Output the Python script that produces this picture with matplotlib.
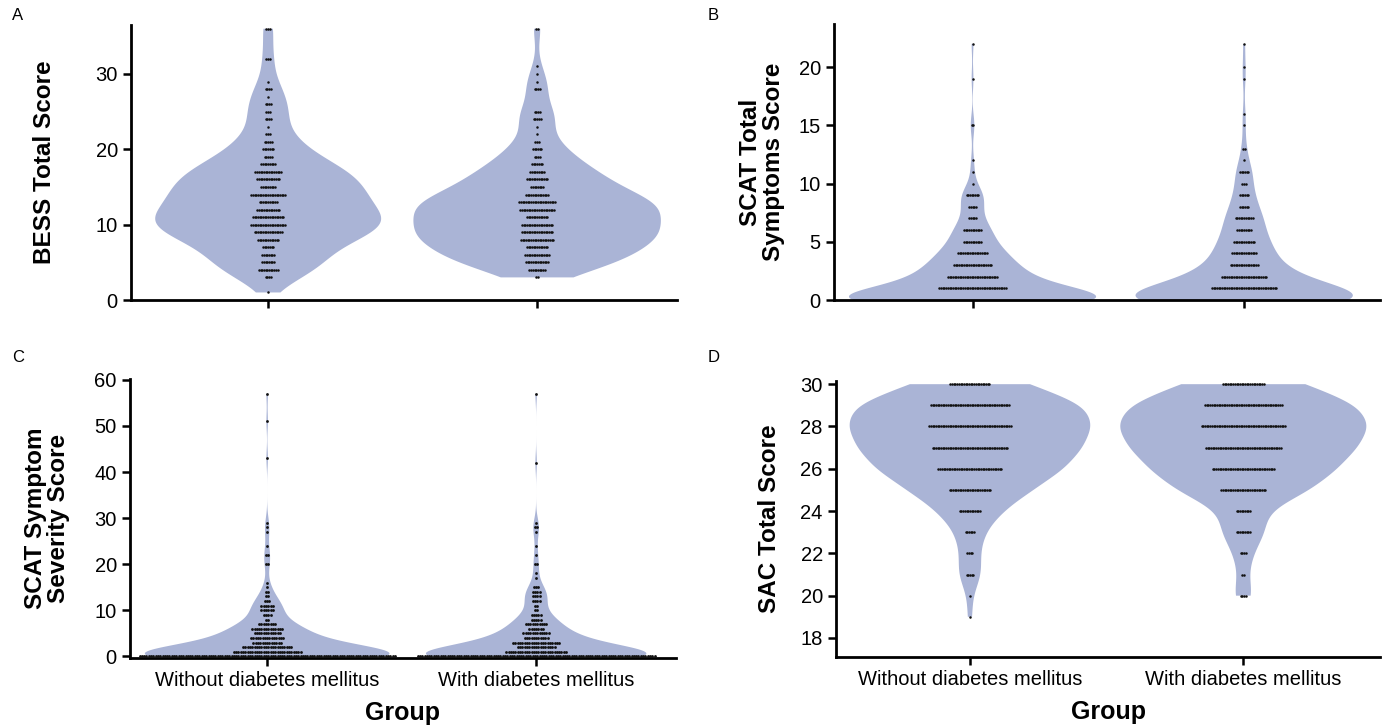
import numpy as np
import matplotlib
matplotlib.use("Agg")
import matplotlib.pyplot as plt
from matplotlib import font_manager

groups = ["Without diabetes mellitus", "With diabetes mellitus"]

# counts of subjects per integer score, one dict per group
bess_without = {1: 1, 3: 4, 4: 12, 5: 8, 6: 8, 7: 7, 8: 13, 9: 17, 10: 21, 11: 19, 12: 14,
                13: 11, 14: 21, 15: 9, 16: 14, 17: 16, 18: 9, 19: 5, 20: 7, 21: 5, 22: 3,
                23: 1, 24: 4, 25: 3, 26: 4, 27: 1, 28: 4, 29: 1, 32: 3, 36: 3}
bess_with = {3: 2, 4: 10, 5: 14, 6: 15, 7: 13, 8: 20, 9: 19, 10: 19, 11: 13, 12: 21, 13: 22,
             14: 14, 15: 8, 16: 13, 17: 9, 18: 7, 19: 4, 20: 6, 21: 3, 22: 1, 23: 1, 24: 5,
             25: 4, 28: 4, 29: 1, 30: 1, 31: 1, 36: 2}

symp_without = {0: 110, 1: 40, 2: 30, 3: 23, 4: 18, 5: 11, 6: 11, 7: 5, 8: 5, 9: 8, 10: 1,
                11: 1, 12: 1, 15: 2, 19: 1, 22: 1}
symp_with = {0: 100, 1: 39, 2: 27, 3: 17, 4: 15, 5: 13, 6: 9, 7: 11, 8: 6, 9: 6, 10: 3,
             11: 6, 12: 1, 13: 2, 15: 1, 16: 1, 19: 1, 20: 1, 22: 1}

sev_without = {0: 112, 1: 30, 2: 22, 3: 13, 4: 15, 5: 12, 6: 14, 7: 8, 8: 2, 9: 4, 10: 6,
               11: 6, 12: 3, 13: 2, 14: 2, 15: 1, 16: 1, 20: 2, 22: 2, 24: 1, 27: 1, 28: 1,
               29: 1, 43: 1, 51: 1, 57: 1}
sev_with = {0: 104, 1: 27, 2: 17, 3: 21, 4: 11, 5: 12, 6: 7, 7: 10, 8: 5, 9: 5, 10: 2,
            11: 2, 12: 4, 13: 4, 14: 4, 15: 3, 17: 1, 18: 1, 20: 2, 22: 1, 24: 1, 27: 1,
            28: 2, 29: 1, 42: 1, 57: 1}

sac_without = {19: 1, 20: 1, 21: 5, 22: 4, 23: 6, 24: 13, 25: 25, 26: 38, 27: 45, 28: 49,
               29: 47, 30: 24}
sac_with = {20: 4, 21: 2, 22: 4, 23: 9, 24: 9, 25: 27, 26: 37, 27: 45, 28: 50, 29: 46,
            30: 25}

violet = "#aab4d6"

names = {f.name for f in font_manager.fontManager.ttflist}
narrow = "Liberation Sans Narrow" if "Liberation Sans Narrow" in names else "Liberation Sans"
plt.rcParams["font.family"] = ["Liberation Sans", "DejaVu Sans"]

fig = plt.figure(figsize=(13.86, 7.27), dpi=100)

W, H = 1386, 727
def box(l, r, t, b):
    return [l / W, 1 - b / H, (r - l) / W, (b - t) / H]

panels = [
    # letter, data, axes box, xlim, ylim, yticks, ylabel, label x px, widths, bw, dot px, skip zero
    ("A", (bess_without, bess_with), box(131, 677, 25, 300), (-0.51, 1.52), (0, 36.5),
     [0, 10, 20, 30], "BESS Total Score", 45, (0.84, 0.92), (0.30, 0.30), 1.7, False),
    ("B", (symp_without, symp_with), box(834, 1380, 24, 300), (-0.51, 1.5), (0, 23.7),
     [0, 5, 10, 15, 20], "SCAT Total\nSymptoms Score", 762, (0.91, 0.80), (0.28, 0.28), 1.7, True),
    ("C", (sev_without, sev_with), box(130, 676, 379, 658), (-0.51, 1.52), (-0.35, 60.2),
     [0, 10, 20, 30, 40, 50, 60], "SCAT Symptom\nSeverity Score", 47, (0.91, 0.82), (0.27, 0.27), 2.3, False),
    ("D", (sac_without, sac_with), box(836, 1380, 381, 657), (-0.49, 1.5), (17.1, 30.15),
     [18, 20, 22, 24, 26, 28, 30], "SAC Total Score", 770, (0.88, 0.90), (0.30, 0.30), 1.7, False),
]

label_pos = {"A": (12, 8), "B": (708, 8), "C": (12, 350), "D": (708, 350)}

for letter, data, rect, xlim, ylim, yticks, ylabel, lab_x, widths, bws, pitch_px, skip0 in panels:
    ax = fig.add_axes(rect)
    for i, counts in enumerate(data):
        vals = np.repeat(list(counts.keys()), list(counts.values())).astype(float)
        parts = ax.violinplot([vals], positions=[i], widths=widths[i], bw_method=bws[i],
                              showextrema=False, points=300)
        for body in parts["bodies"]:
            body.set_facecolor(violet)
            body.set_edgecolor("none")
            body.set_alpha(1)

    ax.set_xlim(*xlim)
    ax.set_ylim(*ylim)
    ax_w_px = rect[2] * W
    unit = ax_w_px / (xlim[1] - xlim[0])
    pitch = pitch_px / unit
    diam = 2.8 if pitch_px > 2 else 2.5
    size = (diam * 0.72) ** 2
    for i, counts in enumerate(data):
        xs, ys = [], []
        for v, n in counts.items():
            if skip0 and v == 0:
                continue
            xs.extend(i + (np.arange(n) - (n - 1) / 2) * pitch)
            ys.extend([v] * n)
        ax.scatter(xs, ys, s=size, color="#111111", linewidths=0, zorder=3, clip_on=False)

    for side in ("top", "right"):
        ax.spines[side].set_visible(False)
    for side in ("left", "bottom"):
        ax.spines[side].set_linewidth(2)
    ax.set_yticks(yticks)
    ax.set_xticks([0, 1])
    ax.tick_params(width=1.8, length=6, labelsize=14.5)
    for t in ax.get_yticklabels():
        t.set_fontfamily(narrow)
    if letter in ("C", "D"):
        ax.set_xticklabels(groups, fontfamily=narrow, fontsize=14.5)
        ax.set_xlabel("Group", fontsize=18, fontweight="bold", labelpad=8)
    else:
        ax.set_xticklabels([])
    ax.set_ylabel(ylabel, fontsize=17.5, fontweight="bold", linespacing=1.05, va="center")
    ax.yaxis.set_label_coords((lab_x - rect[0] * W) / ax_w_px, 0.5)
    lx, ly = label_pos[letter]
    fig.text(lx / W, 1 - ly / H, letter, fontsize=12, va="top", ha="left")

fig.savefig("out.png", dpi=100)
